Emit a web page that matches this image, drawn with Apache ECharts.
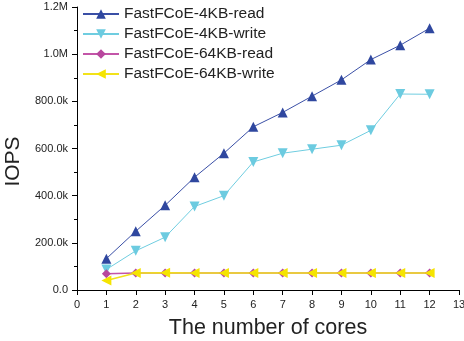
<!DOCTYPE html>
<html>
<head>
<meta charset="utf-8">
<script src="https://cdn.jsdelivr.net/npm/echarts@6/dist/echarts.min.js"></script>
<style>
  body { margin: 0; background: #fff; }
  #chart { width: 464px; height: 341px; }
</style>
</head>
<body>
<div id="chart"></div>
<script>
  // cores on the x axis
  var cores = [1, 2, 3, 4, 5, 6, 7, 8, 9, 10, 11, 12];
  var read4k = [133000, 249000, 359000, 478000, 580000, 692000, 753000, 822000, 891000, 977000, 1038000, 1110000];
  var write4k = [87000, 166000, 224000, 354000, 400000, 543000, 580000, 597000, 614000, 677000, 831000, 830000];
  var read64k = [69000, 72000, 72000, 72000, 72000, 72000, 72000, 72000, 72000, 72000, 72000, 72000];
  var write64k = [40000, 72000, 73000, 72000, 72000, 72000, 72000, 72000, 72000, 72000, 72000, 72000];

  function pairs(vals) {
    return cores.map(function (c, i) { return [c, vals[i]]; });
  }

  function fmtY(v) {
    if (v === 0) return '0.0';
    if (v < 1000000) return (v / 1000).toFixed(1) + 'k';
    return (v / 1000000).toFixed(1) + 'M';
  }

  var chart = echarts.init(document.getElementById('chart'));
  chart.setOption({
    animation: false,
    textStyle: { fontFamily: 'Liberation Sans, Arial, sans-serif' },
    grid: { left: 77, right: 5, top: 7, bottom: 51, outerBoundsMode: 'none' },
    legend: {
      orient: 'vertical',
      left: 77,
      top: 1,
      itemGap: 4,
      itemWidth: 36,
      itemHeight: 12,
      textStyle: { fontSize: 15.5, color: '#222' },
      data: ['FastFCoE-4KB-read', 'FastFCoE-4KB-write', 'FastFCoE-64KB-read', 'FastFCoE-64KB-write']
    },
    xAxis: {
      type: 'value',
      min: 0,
      max: 13,
      interval: 1,
      name: 'The number of cores',
      nameLocation: 'middle',
      nameGap: 27,
      nameTextStyle: { fontSize: 21.5, color: '#222' },
      splitLine: { show: false },
      axisLine: { lineStyle: { color: '#000', width: 1 } },
      axisTick: { length: 5, lineStyle: { color: '#000' } },
      axisLabel: { fontSize: 11, color: '#222', margin: 9 }
    },
    yAxis: {
      type: 'value',
      min: 0,
      max: 1200000,
      interval: 200000,
      name: 'IOPS',
      nameLocation: 'middle',
      nameGap: 43,
      nameTextStyle: { fontSize: 21, color: '#222', padding: [0, 26, 0, 0] },
      splitLine: { show: false },
      axisLine: { show: true, lineStyle: { color: '#000', width: 1 } },
      axisTick: { show: true, length: 5, lineStyle: { color: '#000' } },
      minorTick: { show: true, splitNumber: 2, length: 3, lineStyle: { color: '#000' } },
      axisLabel: { fontSize: 11, color: '#222', margin: 9, formatter: fmtY }
    },
    series: [
      {
        name: 'FastFCoE-4KB-read',
        type: 'line',
        data: pairs(read4k),
        symbol: 'triangle',
        symbolSize: 10,
        lineStyle: { color: '#3a4fa6', width: 1 },
        itemStyle: { color: '#2f479f' }
      },
      {
        name: 'FastFCoE-4KB-write',
        type: 'line',
        data: pairs(write4k),
        symbol: 'triangle',
        symbolRotate: 180,
        symbolSize: 10,
        lineStyle: { color: '#6fcde0', width: 1 },
        itemStyle: { color: '#6ccbe0' }
      },
      {
        name: 'FastFCoE-64KB-read',
        type: 'line',
        data: pairs(read64k),
        symbol: 'diamond',
        symbolSize: 9,
        lineStyle: { color: '#c355a8', width: 1.5 },
        itemStyle: { color: '#b8479e' }
      },
      {
        name: 'FastFCoE-64KB-write',
        type: 'line',
        data: pairs(write64k),
        symbol: 'triangle',
        symbolRotate: 90,
        symbolSize: 10,
        lineStyle: { color: '#f2e21a', width: 1.5 },
        itemStyle: { color: '#f5e400' }
      }
    ]
  });
</script>
</body>
</html>
